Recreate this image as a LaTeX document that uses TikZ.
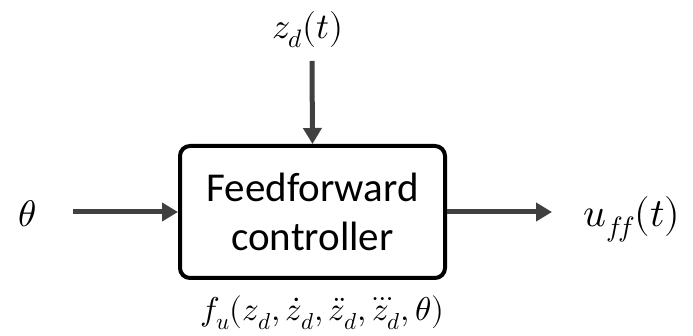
\documentclass[tikz,border=0pt]{standalone}
\usepackage{amsmath}
\usepackage{fontspec}
\usepackage{unicode-math}
\setsansfont{Carlito}
\usetikzlibrary{arrows.meta}
\definecolor{wire}{HTML}{404040}
\begin{document}
\begin{tikzpicture}[x=1pt,y=1pt,
  blockbox/.style={draw=black, line width=4pt, rounded corners=10pt, fill=white,
    minimum width=265pt, minimum height=132pt, align=center,
    font=\sffamily\fontsize{41}{49}\selectfont},
  signal/.style={draw=wire, line width=5pt, -{Triangle[length=16pt,width=18pt]}},
  lbl/.style={inner sep=0pt, anchor=base}]
\useasboundingbox (0,0) rectangle (693,336);
\node[blockbox] (ff) at (312.5,124) {Feedforward\\controller};
\coordinate (thin) at (73,124);
\coordinate (zin) at (312,275);
\coordinate (uout) at (552,124);
\draw[signal] (thin) -- (ff.west);
\draw[signal] (zin) -- (ff.north);
\draw[signal] (ff.east) -- (uout);
\node[lbl] (theta) at (27,109) {\fontsize{37}{44}\selectfont$\theta$};
\node[lbl] (zd) at (308,297) {\fontsize{36}{43}\selectfont$z_d(t)$};
\node[lbl] (uff) at (632,109) {\fontsize{40}{48}\selectfont$u_{f\!f}(t)$};
\node[lbl] (fu) at (322,15) {\fontsize{33}{40}\selectfont$f_u(z_d,\dot z_d,\ddot z_d,\dddot z_d,\theta)$};
\end{tikzpicture}
\end{document}
